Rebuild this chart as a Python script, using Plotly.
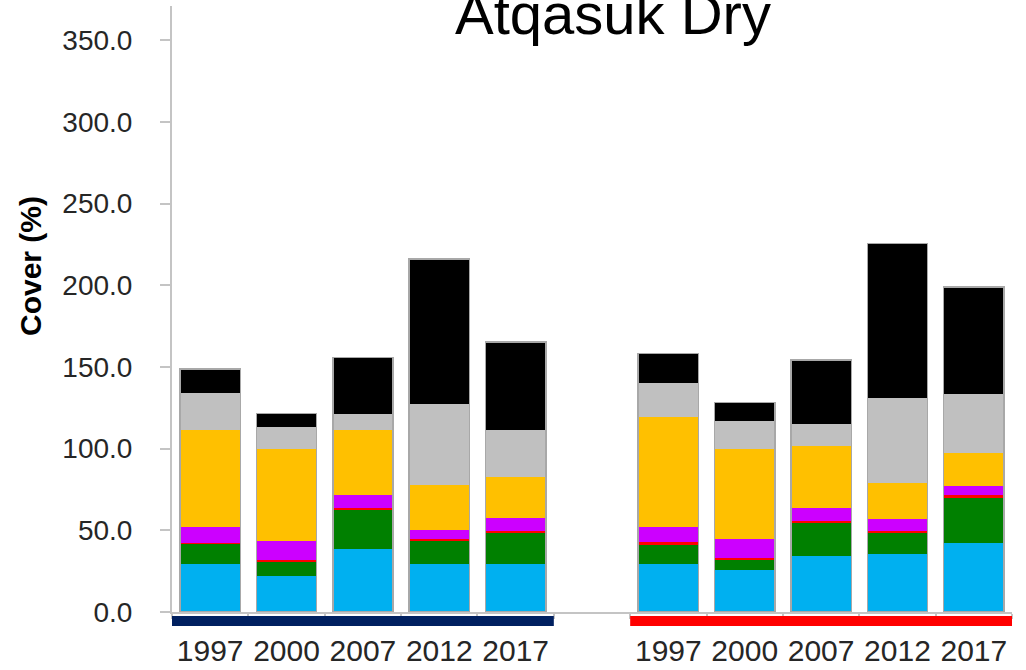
import plotly.graph_objects as go

# ---- data -------------------------------------------------------------
years = ["1997", "2000", "2007", "2012", "2017"]

# stacked cover (%) per year, bottom layer first; left group then right group
blue_a   = [29.2, 22.2, 38.7, 29.2, 29.2]
green_a  = [12.6,  8.8, 24.1, 14.3, 19.3]
red_a    = [ 0.3,  0.8,  1.0,  1.0,  1.1]
purple_a = [ 9.8, 11.7,  7.8,  5.9,  7.9]
yellow_a = [59.8, 56.4, 39.8, 27.5, 24.9]
gray_a   = [22.4, 13.1,  9.8, 49.4, 29.0]
black_a  = [14.7,  8.6, 34.7, 88.7, 53.8]

blue_b   = [29.4, 25.7, 34.5, 35.5, 42.4]
green_b  = [12.2,  6.3, 19.8, 12.7, 27.6]
red_b    = [ 1.0,  0.9,  1.4,  1.4,  1.6]
purple_b = [ 9.6, 11.6,  8.1,  7.1,  5.5]
yellow_b = [67.3, 55.4, 38.0, 22.1, 20.2]
gray_b   = [20.5, 16.8, 13.3, 52.2, 36.1]
black_b  = [18.3, 11.6, 39.1, 94.6, 65.7]

y_ticks = [0, 50, 100, 150, 200, 250, 300, 350]

layers = [
    ("blue",   blue_a,   blue_b,   "#00B0F0"),
    ("green",  green_a,  green_b,  "#008000"),
    ("red",    red_a,    red_b,    "#FF0000"),
    ("purple", purple_a, purple_b, "#CC00FF"),
    ("yellow", yellow_a, yellow_b, "#FFC000"),
    ("gray",   gray_a,   gray_b,   "#C0C0C0"),
    ("black",  black_a,  black_b,  "#000000"),
]
group_colors = ["#002060", "#FF0000"]

# ---- slot positions: two groups of five with one empty slot between ----
n = len(years)
pos_a = list(range(n))
pos_b = [n + 1 + i for i in range(n)]
positions = pos_a + pos_b
labels = years + years
n_slots = n * 2 + 1

BAR_W = 0.79
AXIS_GRAY = "#C4C4C4"
FONT = "Liberation Sans, Arial, sans-serif"

W, H = 1026, 670
M_L, M_R, M_T, M_B = 172, 14, 6, 58
plot_h = H - M_T - M_B

fig = go.Figure()

for name, va, vb, col in layers:
    fig.add_trace(go.Bar(
        x=positions, y=va + vb, name=name, width=BAR_W,
        marker=dict(color=col, line=dict(width=0)),
        showlegend=False, hoverinfo="y",
    ))

# outline around each full stack
totals = [sum(layer[1][i] for layer in layers) for i in range(n)] + \
         [sum(layer[2][i] for layer in layers) for i in range(n)]
fig.add_trace(go.Bar(
    x=positions, y=totals, xaxis="x2", width=BAR_W,
    marker=dict(color="rgba(0,0,0,0)", line=dict(color="#A8A8A8", width=1.5)),
    showlegend=False, hoverinfo="skip",
))

x_range = [-0.5, n_slots - 0.5]
fig.update_layout(
    width=W, height=H,
    margin=dict(l=M_L, r=M_R, t=M_T, b=M_B, autoexpand=False),
    barmode="stack",
    plot_bgcolor="white", paper_bgcolor="white",
    xaxis=dict(
        range=x_range, automargin=False,
        tickmode="array", tickvals=positions, ticktext=labels,
        ticks="", ticklabelstandoff=11,
        tickfont=dict(family=FONT, size=30, color="#262626"),
        showline=True, linecolor=AXIS_GRAY, linewidth=2,
        showgrid=False, zeroline=False,
        minor=dict(tickmode="linear", tick0=-0.5, dtick=1,
                   ticks="outside", ticklen=5, tickcolor=AXIS_GRAY, tickwidth=1.5),
    ),
    xaxis2=dict(range=x_range, overlaying="x", visible=False),
    yaxis=dict(
        range=[0, 371], automargin=False,
        tickmode="array", tickvals=y_ticks,
        ticktext=[f"{v:.1f}" for v in y_ticks],
        ticks="outside", ticklen=10, tickcolor=AXIS_GRAY, tickwidth=1.5,
        ticklabelstandoff=22,
        tickfont=dict(family=FONT, size=28, color="#262626"),
        showline=True, linecolor=AXIS_GRAY, linewidth=2,
        showgrid=False, zeroline=False,
    ),
    font=dict(family=FONT),
)

# group underline bars beneath the category axis
bar_top_px, bar_bot_px = 4, 14
for positions_g, col in ((pos_a, group_colors[0]), (pos_b, group_colors[1])):
    fig.add_shape(
        type="rect", xref="x", yref="paper",
        x0=positions_g[0] - 0.5, x1=positions_g[-1] + 0.5,
        y0=-bar_bot_px / plot_h, y1=-bar_top_px / plot_h,
        fillcolor=col, line=dict(width=0), layer="above",
    )

# chart title
fig.add_annotation(
    text="Atqasuk Dry", xref="paper", yref="paper",
    x=(613 - M_L) / (W - M_L - M_R), y=1, xanchor="center", yanchor="bottom",
    yshift=-42, showarrow=False,
    font=dict(family=FONT, size=58, color="#000000"),
)

# y-axis title
fig.add_annotation(
    text="<b>Cover (%)</b>", xref="paper", yref="paper",
    x=-(M_L - 30) / (W - M_L - M_R), y=(H - M_B - 266) / plot_h,
    xanchor="center", yanchor="middle", textangle=-90, showarrow=False,
    font=dict(family=FONT, size=30, color="#000000"),
)

fig.write_html("out.html")
